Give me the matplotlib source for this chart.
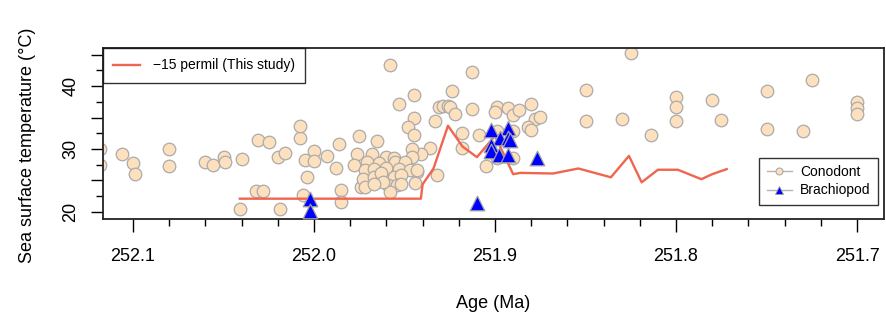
import matplotlib
matplotlib.use("Agg")
import matplotlib.pyplot as plt
from matplotlib.lines import Line2D
from matplotlib.ticker import MultipleLocator

plt.rcParams['font.family'] = ['Liberation Sans', 'DejaVu Sans']

# ---------------- Data ----------------
conodont_age = [
    252.118, 252.118, 252.106, 252.100, 252.099, 252.080, 252.080, 252.060, 252.056, 252.050,
    252.049, 252.040, 252.031, 252.025, 252.020, 252.016, 252.008, 252.032, 252.028, 252.041,
    252.019, 251.958, 251.945, 251.953, 251.931, 251.933, 252.008, 251.945, 251.948, 251.945,
    251.975, 251.965, 251.986, 252.000, 252.005, 252.000, 251.993, 251.988, 252.004, 252.006,
    251.985, 251.985, 251.976, 251.978, 251.974, 251.936, 251.941, 251.946, 251.932, 251.943,
    251.944, 251.968, 251.960, 251.956, 251.946, 251.971, 251.964, 251.955, 251.950, 251.972,
    251.967, 251.960, 251.953, 251.947, 251.943, 251.973, 251.967, 251.963, 251.956, 251.952,
    251.972, 251.959, 251.954, 251.958, 251.952, 251.962, 251.967,
    251.913, 251.924, 251.929, 251.926, 251.925, 251.922, 251.913, 251.899, 251.900, 251.893,
    251.890, 251.887, 251.880, 251.878, 251.875, 251.882, 251.880, 251.918, 251.909, 251.899,
    251.890, 251.918, 251.899, 251.890, 251.905,
    251.825, 251.850, 251.850, 251.830, 251.814, 251.800, 251.800, 251.800, 251.780, 251.775,
    251.750, 251.750, 251.730, 251.725, 251.700, 251.700, 251.700,
]
conodont_sst = [
    30.0, 27.5, 29.2, 27.8, 26.1, 30.0, 27.3, 28.0, 27.4, 28.8,
    27.9, 28.4, 31.4, 31.1, 28.7, 29.4, 31.8, 23.3, 23.3, 20.4,
    20.4, 43.3, 38.6, 37.1, 36.6, 34.5, 33.7, 34.9, 33.5, 32.2,
    32.1, 31.2, 30.8, 29.7, 28.3, 28.1, 28.9, 26.9, 25.5, 22.7,
    23.5, 21.6, 29.2, 27.5, 24.0, 30.1, 29.2, 30.0, 25.9, 26.3,
    24.6, 29.2, 28.8, 28.5, 28.8, 28.0, 27.8, 28.0, 28.0, 26.7,
    26.8, 26.9, 26.8, 26.7, 26.7, 25.3, 25.6, 26.2, 25.6, 25.9,
    24.0, 24.3, 24.3, 23.2, 24.5, 24.8, 24.5,
    42.3, 39.2, 36.9, 36.9, 36.6, 35.6, 36.3, 36.7, 35.8, 36.5,
    35.4, 36.2, 37.1, 34.8, 35.1, 33.5, 33.0, 32.6, 32.2, 32.9,
    32.8, 30.1, 28.5, 28.5, 27.3,
    45.2, 39.4, 34.4, 34.7, 32.2, 38.2, 36.6, 34.4, 37.8, 34.6,
    39.2, 33.1, 32.9, 40.9, 37.4, 36.5, 35.6,
]

brachiopod_age = [252.002, 252.002, 251.902, 251.893, 251.897, 251.893, 251.892,
                  251.902, 251.902, 251.898, 251.893, 251.877, 251.910]
brachiopod_sst = [22.0, 20.2, 33.0, 33.3, 31.7, 31.8, 31.4,
                  30.6, 29.6, 29.0, 29.0, 28.5, 21.4]

model_age = [252.041, 251.941, 251.940, 251.934, 251.926, 251.918, 251.910, 251.900,
             251.890, 251.886, 251.868, 251.854, 251.836, 251.826, 251.819, 251.810,
             251.799, 251.786, 251.780, 251.772]
model_sst = [22.1, 22.1, 24.4, 26.9, 33.7, 30.4, 28.7, 32.1,
             26.0, 26.2, 26.1, 26.9, 25.5, 28.9, 24.7, 26.7,
             26.7, 25.2, 26.0, 26.8]

x_ticks = [252.1, 252.0, 251.9, 251.8, 251.7]
y_ticks = [20, 30, 40]

# ---------------- Plot ----------------
fig = plt.figure(figsize=(8.86, 3.22), dpi=100)
ax = fig.add_axes([103 / 886, 1 - 218.5 / 322, 781 / 886, 170.5 / 322])

ax.scatter(conodont_age, conodont_sst, s=82, marker='o', facecolor='#fde0bd',
           edgecolor='#ababab', linewidth=0.9, zorder=2)
ax.plot(model_age, model_sst, color='#f0654f', lw=1.7, zorder=3)
ax.scatter(brachiopod_age, brachiopod_sst, s=110, marker='^', facecolor='#0000ff',
           edgecolor='#a0a0a0', linewidth=0.9, zorder=4)

ax.set_xlim(252.1166, 251.6851)
ax.set_ylim(18.95, 46.05)

ax.set_xticks(x_ticks)
ax.set_xticklabels([f"{t:.1f}" for t in x_ticks])
ax.xaxis.set_minor_locator(MultipleLocator(0.02))
ax.yaxis.set_minor_locator(MultipleLocator(2.5))
ax.set_yticks(y_ticks + [25, 35, 45])
ax.set_yticklabels(['20', '30', '40', '', '', ''])

ax.tick_params(axis='both', which='major', direction='out', length=9, width=1.0,
               labelsize=13, color='black')
ax.tick_params(axis='both', which='minor', direction='out', length=5, width=1.0)
ax.tick_params(axis='x', which='major', pad=12)
ax.tick_params(axis='y', which='major', pad=8)
for lab in ax.get_yticklabels():
    lab.set_rotation(90)
    lab.set_va('center')

for sp in ax.spines.values():
    sp.set_linewidth(1.3)
    sp.set_color('#222222')

fig.text(493.5 / 886, 1 - 303 / 322, 'Age (Ma)', ha='center', va='center', fontsize=13)
fig.text(28 / 886, 1 - 145 / 322, 'Sea surface temperature (\u00b0C)', ha='center',
         va='center', rotation=90, fontsize=13)

# legends
h_model = Line2D([], [], color='#f0654f', lw=1.7)
leg1 = ax.legend([h_model], ['\u221215 permil (This study)'], loc='upper left',
                 bbox_to_anchor=(0, 1), borderaxespad=0, fontsize=10,
                 frameon=True, fancybox=False, edgecolor='black',
                 handlelength=1.9, handletextpad=0.95, borderpad=0.75)
leg1.get_frame().set_linewidth(1.0)
ax.add_artist(leg1)

h_con = Line2D([], [], color='#b5b5b5', lw=1.0, marker='o', ms=5,
               mfc='#fde0bd', mec='#ababab', mew=0.8)
h_bra = Line2D([], [], color='#b5b5b5', lw=1.0, marker='^', ms=5.5,
               mfc='#0000ff', mec='#a0a0a0', mew=0.6)
leg2 = ax.legend([h_con, h_bra], ['Conodont', 'Brachiopod'], loc='lower right',
                 bbox_to_anchor=(0.9927, 0.079), borderaxespad=0, fontsize=10,
                 frameon=True, fancybox=False, edgecolor='black',
                 handlelength=1.8, handletextpad=0.6, borderpad=0.55,
                 labelspacing=0.3)
leg2.get_frame().set_linewidth(1.0)

fig.savefig('out.png', dpi=100)
